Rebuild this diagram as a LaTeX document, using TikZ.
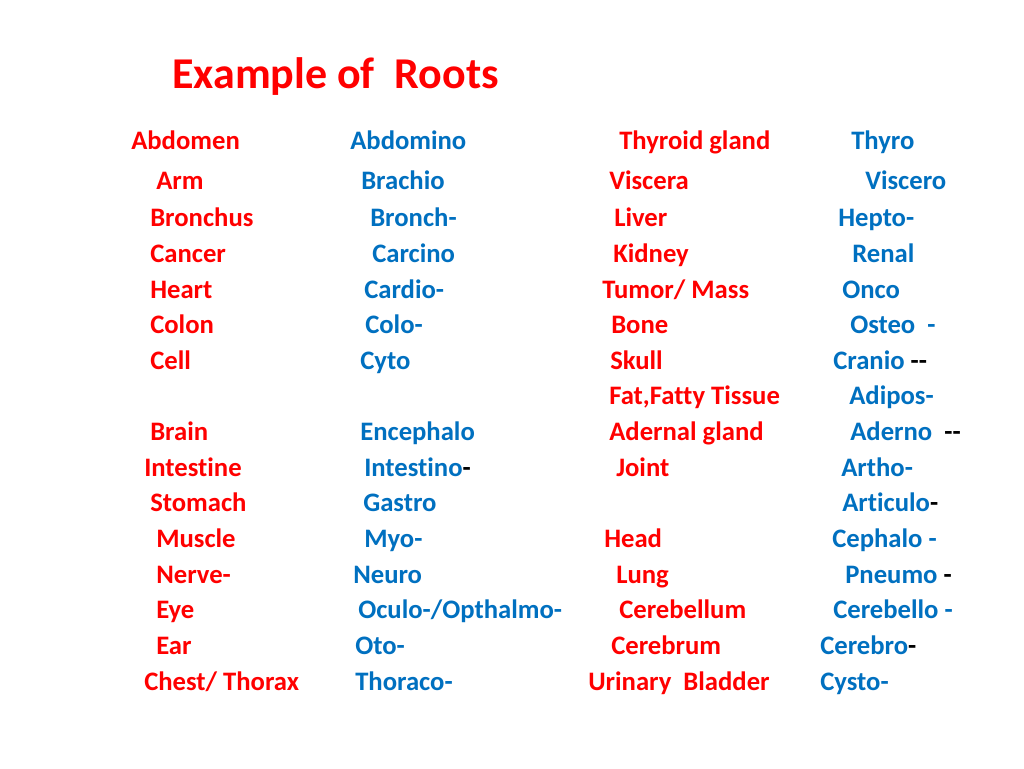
\documentclass[tikz,border=0pt]{standalone}
\usepackage{fontspec}
\setmainfont[Ligatures={NoCommon}]{Carlito}
\usetikzlibrary{positioning}
\definecolor{rootred}{RGB}{255,0,0}
\definecolor{rootblue}{RGB}{0,112,192}
\tikzset{
  word/.style={anchor=west, inner sep=0pt, font=\bfseries\fontsize{20}{22}\selectfont, text height=1.5ex, text depth=.35ex, yshift=-4pt},
  organ/.style={word, text=rootred},
  root/.style={word, text=rootblue}
}
\begin{document}
\begin{tikzpicture}[x=0.75pt,y=-0.75pt]
\useasboundingbox[fill=white] (0,0) rectangle (1024,768);
\node[organ, font=\bfseries\fontsize{33}{36}\selectfont] (title) at (172,80) {Example of\ \ Roots};
% left half
\foreach \o/\ox/\r/\rx/\y [count=\i] in {
  Abdomen/131/Abdomino/350/141, Arm/156/Brachio/361/181,
  Bronchus/150/Bronch-/370/217, Cancer/150/Carcino/372/253,
  Heart/150/Cardio-/364/289, Colon/150/Colo-/365/324,
  Cell/150/Cyto/360/360, Brain/150/Encephalo/360/431,
  Intestine/144/Intestino\textcolor{black}{-}/364/467, Stomach/150/Gastro/363/502,
  Muscle/156/Myo-/364/538, Nerve-/156/Neuro/353/574,
  Eye/156/{Oculo-/Opthalmo-}/358/609, Ear/156/Oto-/355/645,
  {Chest/ Thorax}/144/Thoraco-/355/681}{
  \node[organ] (l\i) at (\ox,\y) {\o};
  \node[root] (lr\i) at (\rx,\y) {\r};
}
% right half
\foreach \o/\ox/\r/\rx/\y [count=\i] in {
  Thyroid gland/619/Thyro/851/141, Viscera/609/Viscero/865/181,
  Liver/614/Hepto-/838/217, Kidney/613/Renal/852/253,
  {Tumor/ Mass}/602/Onco/842/289, Bone/611/Osteo\ \ -/850/324,
  Skull/610/Cranio \textcolor{black}{-{}-}/833/360, {Fat,Fatty Tissue}/609/Adipos-/849/395,
  Adernal gland/609/Aderno\ \ \textcolor{black}{-{}-}/850/431, Joint/616/Artho-/841/467,
  {}/616/Articulo\textcolor{black}{-}/842/502, Head/604/Cephalo -/832/538,
  Lung/616/Pneumo \textcolor{black}{-}/845/574, Cerebellum/619/Cerebello -/833/609,
  Cerebrum/611/Cerebro\textcolor{black}{-}/820/645, Urinary\ \ Bladder/588/Cysto-/820/681}{
  \node[organ] (r\i) at (\ox,\y) {\o};
  \node[root] (rr\i) at (\rx,\y) {\r};
}
\end{tikzpicture}
\end{document}
